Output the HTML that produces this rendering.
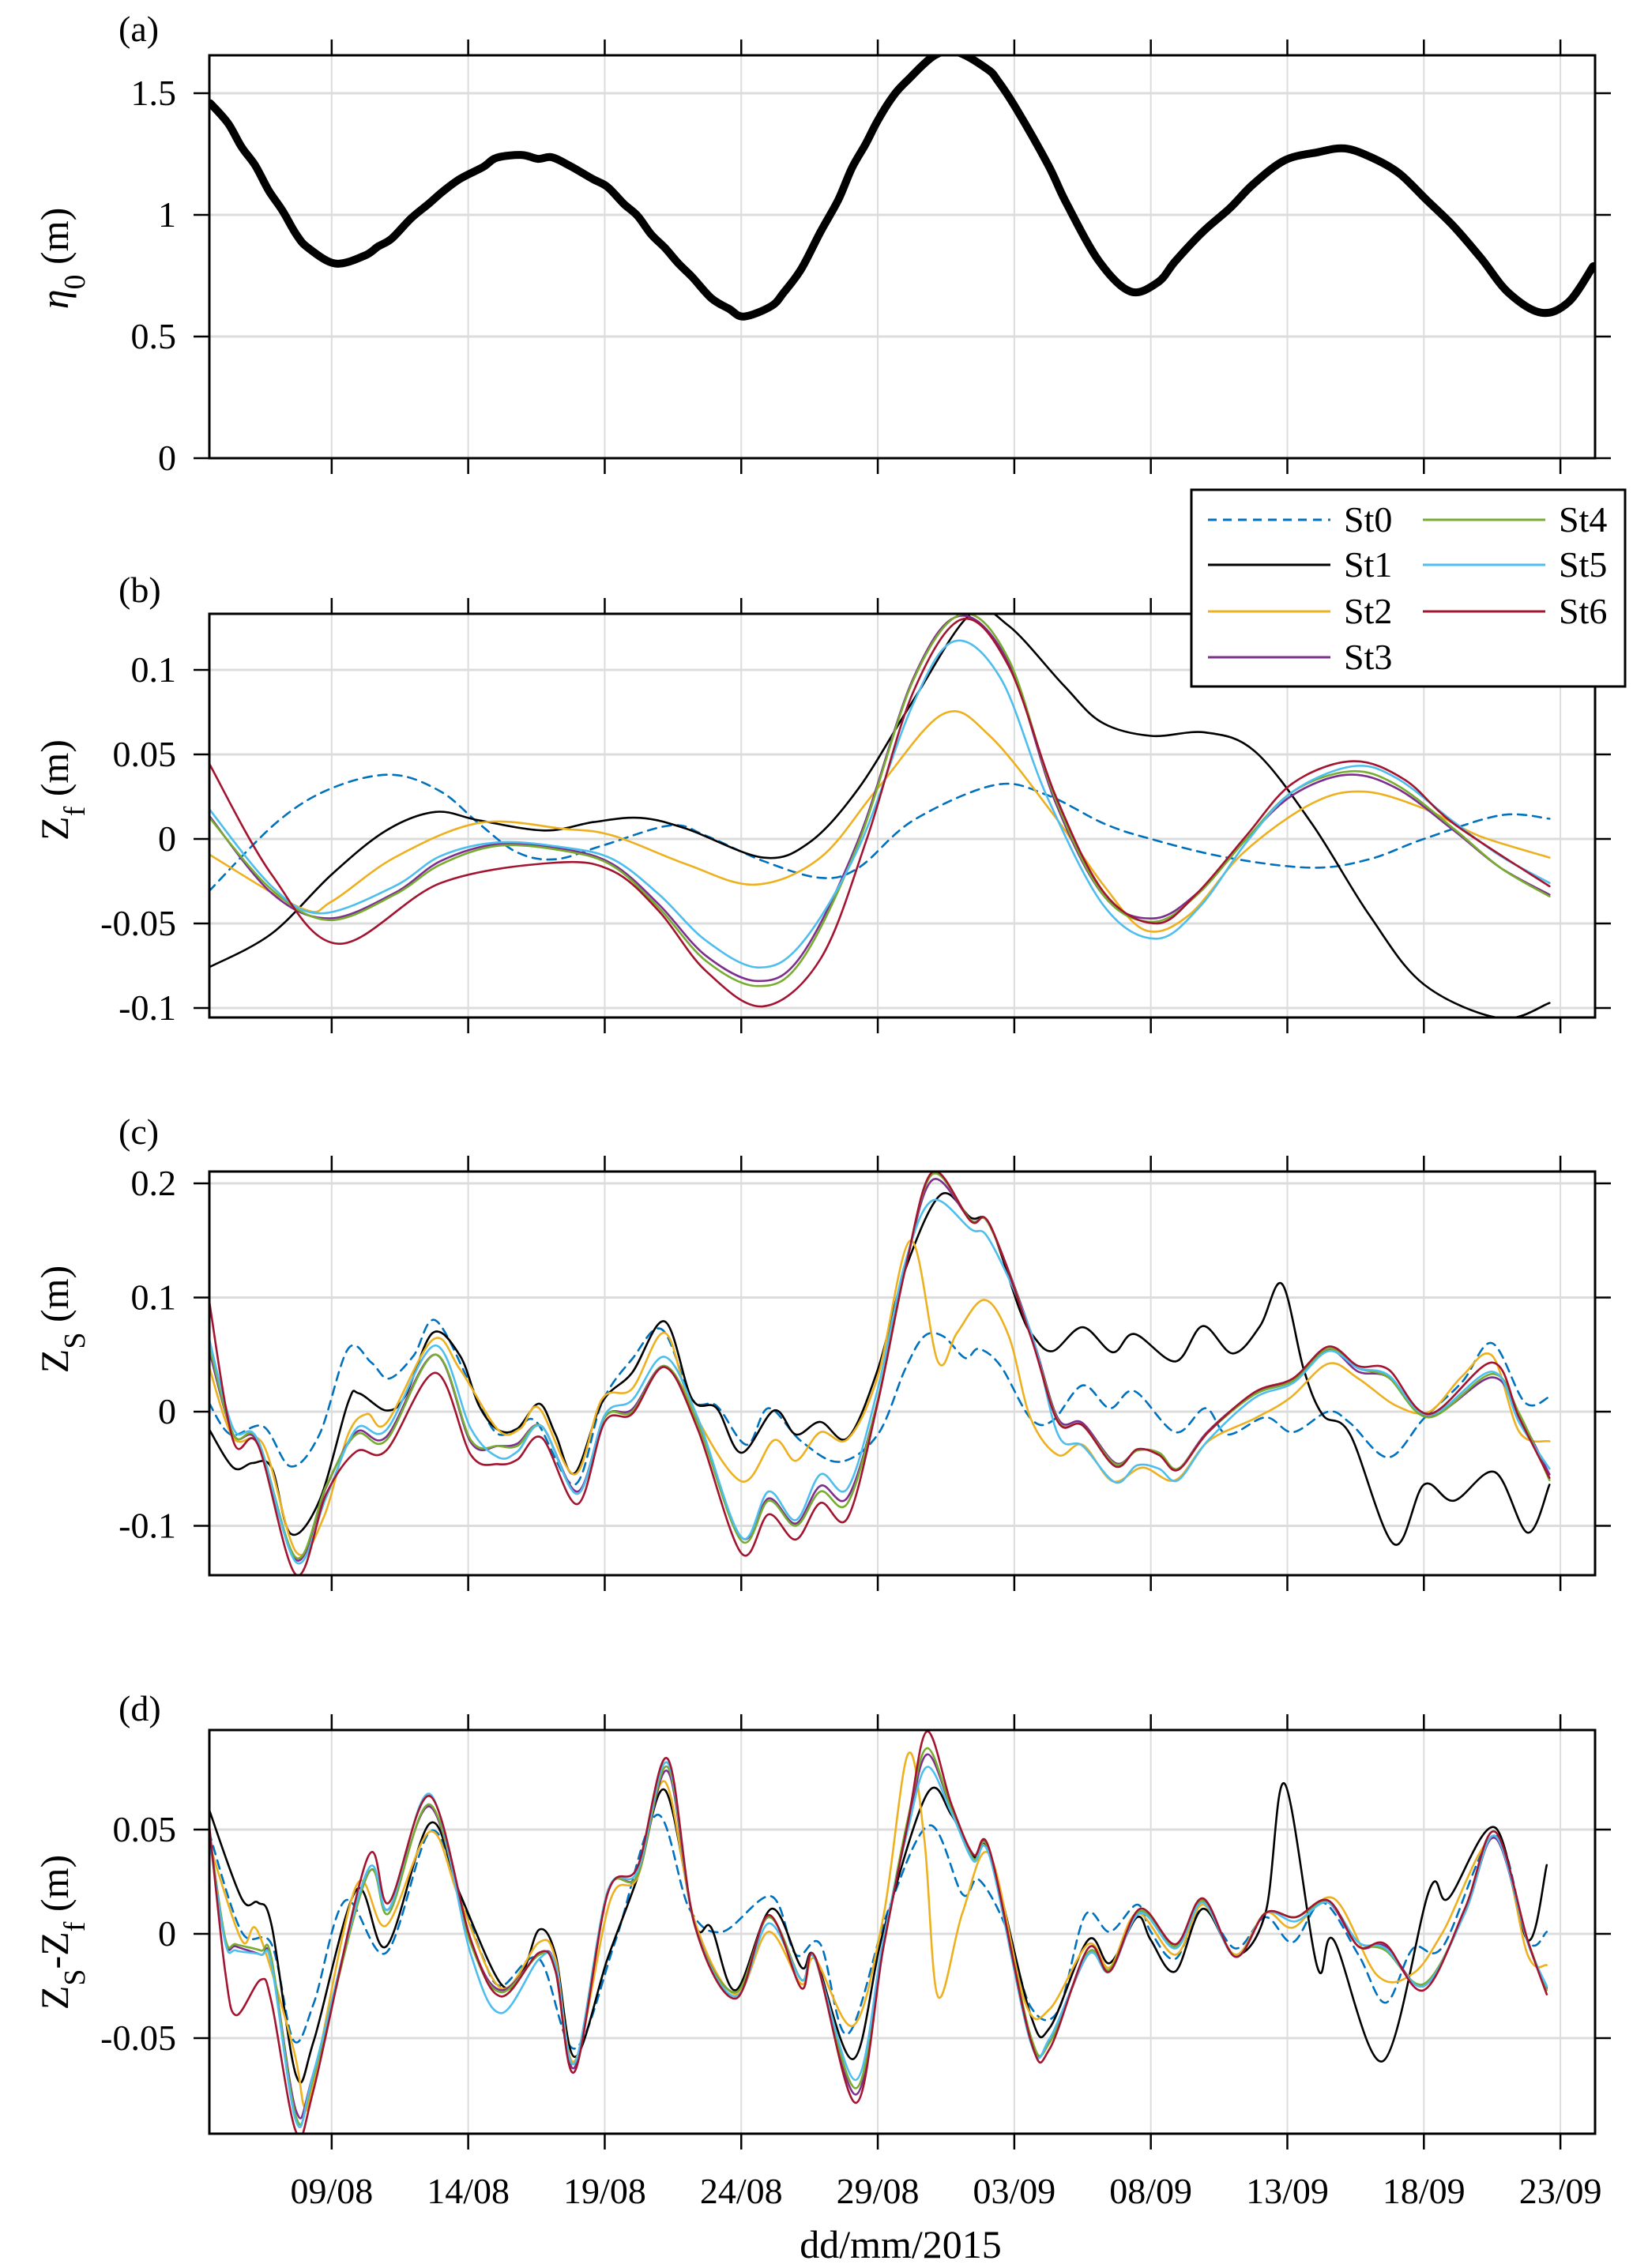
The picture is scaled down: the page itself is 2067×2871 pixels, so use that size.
<!DOCTYPE html>
<html><head><meta charset="utf-8"><style>
html,body{margin:0;padding:0;background:#fff;}
svg{display:block;font-family:"Liberation Serif",serif;}
</style></head><body>
<svg id="fig" width="2067" height="2871" viewBox="0 0 2067 2871" xmlns="http://www.w3.org/2000/svg"></svg>
<script>
// ---------- DATA (time in days since 09/08/2015) ----------
const xTickLabels = ["09/08","14/08","19/08","24/08","29/08","03/09","08/09","13/09","18/09","23/09"];
const xTickDays = [0,5,10,15,20,25,30,35,40,45];

const aT = [-4.45,-3.8,-3.3,-2.8,-2.3,-1.8,-1.3,-0.87,0.13,1.2,1.7,2.2,2.9,3.55,4.05,4.7,5.55,6.05,6.97,7.55,8.05,8.7,9.55,10.1,10.7,11.2,11.7,12.2,12.7,13.2,13.9,14.55,15.1,16.1,16.55,17.2,17.9,18.55,19.05,19.55,20,20.55,21.07,22.08,22.9,24,24.4,25.1,26.25,26.9,28.1,29.25,30.26,30.9,31.9,32.9,33.75,34.9,36.1,37.1,38.1,39.1,40.1,41.1,42.1,43.1,44.3,45.3,46.2];
const aV = [1.459,1.377,1.279,1.203,1.099,1.017,0.92,0.865,0.80,0.832,0.87,0.903,0.985,1.045,1.094,1.148,1.197,1.235,1.246,1.23,1.237,1.203,1.148,1.115,1.045,0.996,0.92,0.865,0.80,0.745,0.658,0.614,0.582,0.625,0.68,0.778,0.93,1.061,1.192,1.29,1.388,1.486,1.551,1.655,1.669,1.6,1.551,1.431,1.203,1.05,0.81,0.685,0.723,0.81,0.93,1.028,1.126,1.224,1.257,1.273,1.235,1.17,1.061,0.952,0.821,0.68,0.598,0.642,0.789];

// Panel b (Zf)
const b0T=[-4.5,-2,0,2.2,4,5.4,6.8,8.2,9.9,12.4,13.7,15.8,17.9,19.3,21.3,24.3,26.2,28.3,30,32.8,35.9,38,40,42.8,44.6];
const b0V=[-0.031,0.01,0.03,0.038,0.028,0.009,-0.008,-0.012,-0.004,0.008,0.002,-0.013,-0.023,-0.017,0.011,0.032,0.026,0.009,0,-0.011,-0.017,-0.012,0,0.014,0.012];
const b1T=[-4.5,-2.2,0,2,3.8,5.4,7.8,9.6,11.3,13,15.8,17.5,19.3,21.3,23.4,24.8,26.8,28.2,30,32,33.8,35.9,38,40,42.8,44.6];
const b1V=[-0.076,-0.056,-0.021,0.005,0.016,0.011,0.005,0.010,0.0125,0.006,-0.011,-0.002,0.030,0.082,0.133,0.126,0.091,0.069,0.061,0.063,0.052,0.009,-0.045,-0.086,-0.106,-0.097];
const b2T=[-4.5,-1.1,0,2.3,5.4,8.5,10.3,13,15.5,17.9,20,22.4,24.1,26.5,28.3,29.8,31.4,33.4,35.9,37.8,40,42,44.6];
const b2V=[-0.009,-0.041,-0.037,-0.011,0.0095,0.006,0.002,-0.015,-0.027,-0.011,0.030,0.074,0.061,0.013,-0.028,-0.054,-0.045,-0.008,0.021,0.028,0.018,0.002,-0.011];
const b3T=[-4.5,-2.2,-0.1,2.3,4,6.1,8.5,10.3,12,13.7,15.6,17.2,19.3,21.3,23,24.8,26.5,28.3,30.1,31.7,33.5,35.2,37.2,39,41.1,42.8,44.6];
const b3V=[0.014,-0.032,-0.047,-0.032,-0.013,-0.003,-0.006,-0.015,-0.039,-0.069,-0.084,-0.069,0,0.095,0.132,0.104,0.022,-0.034,-0.047,-0.032,0,0.026,0.038,0.030,0.005,-0.017,-0.033];
const b4T=[-4.5,-2.2,-0.1,2.3,4,6.1,8.5,10.3,12,13.7,15.6,17.2,19.3,21.3,23.1,24.8,26.5,28.3,30.1,31.7,33.5,35.2,37.3,39,41.1,42.8,44.6];
const b4V=[0.013,-0.030,-0.048,-0.033,-0.015,-0.004,-0.007,-0.016,-0.041,-0.072,-0.087,-0.072,-0.002,0.094,0.133,0.106,0.024,-0.034,-0.049,-0.033,0,0.028,0.040,0.032,0.006,-0.017,-0.034];
const b5T=[-4.5,-2.2,-0.4,2.3,4,6.1,8.5,10.3,12,13.7,15.6,17.2,19.3,21.3,22.8,24.5,26.2,28.3,30.2,31.8,33.5,35.2,37.4,39,41.1,42.8,44.6];
const b5V=[0.018,-0.028,-0.044,-0.028,-0.010,-0.002,-0.005,-0.012,-0.033,-0.060,-0.076,-0.062,-0.005,0.080,0.117,0.095,0.025,-0.040,-0.059,-0.040,-0.002,0.028,0.043,0.036,0.010,-0.010,-0.026];
const b6T=[-4.5,-2.2,0.25,4,8.2,10.3,12,13.7,15.8,17.9,19.6,21.3,23.1,24.8,26.5,28.3,30.2,31.7,33.5,35.2,37.4,39.3,41.1,44.6];
const b6V=[0.045,-0.021,-0.062,-0.026,-0.014,-0.019,-0.043,-0.078,-0.099,-0.071,0,0.087,0.130,0.102,0.026,-0.032,-0.050,-0.032,0.002,0.033,0.046,0.035,0.009,-0.028];

// Panel c (ZS)
const c0T=[-4.5,-3.7,-2.5,-1.5,-0.45,0.6,1.45,2.1,3,3.8,5.1,6,6.8,7.5,8.9,9.9,11,12.1,13.2,14.1,15.2,16,17.2,18.6,20,21,21.7,22.4,23.2,23.7,24.5,25.6,26.4,27.5,28.5,29.4,30.9,32,32.8,34.2,35.2,36.5,37.3,38.7,40,41.4,42.5,43.7,44.6];
const c0V=[0.008,-0.02,-0.013,-0.048,-0.02,0.055,0.043,0.029,0.049,0.08,0.023,-0.018,-0.015,-0.009,-0.064,0.008,0.046,0.072,0.011,0.005,-0.029,0.003,-0.026,-0.044,-0.02,0.037,0.066,0.066,0.047,0.055,0.04,-0.006,-0.008,0.023,0.003,0.018,-0.018,0.003,-0.02,-0.005,-0.018,0,-0.01,-0.04,-0.006,0.026,0.06,0.008,0.013];
const c1T=[-4.5,-3.6,-2.9,-2.2,-1.5,-0.45,0.6,1.0,2,2.7,3.7,4.7,5.4,6.1,6.8,7.6,8.2,8.9,9.9,11,12.2,13.2,14.1,15,16.2,17,17.9,18.9,20,21,22.3,23.4,24.1,25.2,25.7,26.4,27.5,28.6,29.4,30.9,31.9,33,34,34.8,35.6,36.3,37.3,38.9,40,41.1,42.6,43.8,44.6];
const c1V=[-0.015,-0.049,-0.045,-0.049,-0.107,-0.078,0.008,0.016,0.001,0.014,0.069,0.049,0.005,-0.016,-0.015,0.007,-0.02,-0.054,0.008,0.034,0.079,0.011,0.003,-0.036,0.001,-0.02,-0.009,-0.023,0.037,0.124,0.19,0.17,0.164,0.089,0.066,0.053,0.074,0.052,0.068,0.044,0.075,0.051,0.075,0.112,0.037,-0.003,-0.02,-0.116,-0.064,-0.078,-0.053,-0.106,-0.064];
const c2T=[-4.5,-3.6,-2.5,-1.3,-0.3,0.6,1.3,2,3.7,4.7,6.1,6.9,7.6,8.9,9.9,11,12.2,13.2,15,16.2,17,17.9,18.9,20,21.2,22.2,22.9,23.9,24.8,25.6,26.6,27.5,28.6,29.7,30.9,32.1,33.8,35.1,36.5,37.6,39,40.2,41.4,42.5,43.5,44.6];
const c2V=[0.04,-0.023,-0.029,-0.123,-0.093,-0.02,-0.002,-0.01,0.063,0.037,-0.016,-0.015,0.003,-0.055,0.011,0.02,0.069,0.003,-0.061,-0.025,-0.043,-0.018,-0.024,0.031,0.15,0.044,0.069,0.098,0.066,-0.006,-0.038,-0.029,-0.061,-0.049,-0.06,-0.026,-0.006,0.012,0.042,0.029,0.005,0,0.031,0.049,-0.018,-0.026];
const cT=[-4.5,-3.6,-2.7,-1.3,-0.2,0.9,2,3.8,5.1,6.1,6.8,7.7,9,10,11,12.2,13.4,15,16,17,17.9,18.9,20,21,22,23.4,24.1,25.6,26.6,27.5,28.7,29.5,30.3,31,32.1,33.8,35.2,36.5,37.6,38.7,40.2,42.5,43.5,44.6];
const c3V=[0.055,-0.02,-0.027,-0.13,-0.066,-0.018,-0.022,0.05,-0.027,-0.03,-0.028,-0.013,-0.07,-0.005,0.002,0.04,-0.01,-0.11,-0.076,-0.098,-0.065,-0.075,0.01,0.125,0.203,0.168,0.163,0.07,-0.006,-0.01,-0.045,-0.034,-0.036,-0.05,-0.017,0.016,0.027,0.054,0.035,0.03,-0.004,0.03,-0.004,-0.055];
const c4V=[0.06,-0.02,-0.025,-0.128,-0.065,-0.02,-0.025,0.05,-0.025,-0.03,-0.03,-0.013,-0.072,-0.005,0.0,0.04,-0.01,-0.113,-0.078,-0.1,-0.07,-0.08,0.01,0.125,0.208,0.168,0.163,0.068,-0.008,-0.012,-0.046,-0.034,-0.036,-0.05,-0.018,0.015,0.027,0.055,0.038,0.03,-0.005,0.033,-0.002,-0.06];
const c5V=[0.065,-0.015,-0.025,-0.132,-0.075,-0.015,-0.016,0.058,-0.015,-0.04,-0.035,-0.013,-0.072,-0.003,0.01,0.048,-0.005,-0.11,-0.07,-0.095,-0.055,-0.067,0.02,0.13,0.185,0.16,0.15,0.07,-0.02,-0.03,-0.062,-0.047,-0.05,-0.06,-0.025,0.012,0.025,0.053,0.038,0.032,-0.003,0.035,-0.01,-0.05];
const c6V=[0.099,-0.026,-0.029,-0.143,-0.072,-0.035,-0.034,0.034,-0.038,-0.046,-0.042,-0.023,-0.081,-0.009,-0.002,0.039,-0.015,-0.124,-0.09,-0.112,-0.08,-0.093,0.008,0.124,0.21,0.167,0.164,0.066,-0.009,-0.012,-0.048,-0.033,-0.038,-0.051,-0.018,0.017,0.029,0.057,0.04,0.037,-0.002,0.043,-0.006,-0.058];

// Panel d (ZS - Zf)
const d0T=[-4.5,-3.3,-2.2,-1.4,-0.65,0.5,2,3.6,4.7,5.5,6.2,7.6,8.9,10.4,11.9,13.1,14.3,16.1,17,17.9,18.9,20.4,21.9,23.1,23.7,24.7,25.6,26.6,27.6,28.5,29.5,30,30.9,31.9,33.1,34.2,35.2,36.3,37.6,38.6,39.6,40.7,42.6,43.8,44.5];
const d0V=[0.049,0.001,-0.005,-0.051,-0.033,0.016,-0.009,0.049,0.019,-0.010,-0.025,-0.012,-0.055,-0.003,0.057,0.012,0.001,0.018,-0.01,-0.005,-0.048,0.012,0.052,0.019,0.026,0.003,-0.035,-0.037,0.009,0.001,0.014,0.001,-0.012,0.012,-0.007,0.008,-0.004,0.015,-0.010,-0.033,-0.007,-0.006,0.047,-0.003,0.001];
const d1T=[-4.5,-3.3,-2.7,-2.2,-1.3,-0.65,0.9,2,3.6,4.7,6.2,7,7.6,8.2,8.9,10.1,11.2,12.2,13.3,13.9,14.8,16.1,17.2,17.7,19.1,20.2,21.8,22.7,23.5,24.1,25.6,26.3,27.7,28.5,29.5,30,30.9,31.9,33.1,34.2,34.9,36.1,36.7,38.5,40.2,40.9,42.6,43.8,44.5];
const d1V=[0.060,0.017,0.015,0.004,-0.068,-0.051,0.021,-0.006,0.053,0.019,-0.024,-0.018,0.002,-0.010,-0.059,-0.012,0.027,0.069,0.005,0.003,-0.027,0.012,-0.016,-0.011,-0.060,0.001,0.067,0.057,0.037,0.039,-0.039,-0.045,-0.003,-0.014,0.008,-0.003,-0.018,0.012,-0.010,0.010,0.072,-0.016,-0.003,-0.061,0.021,0.017,0.051,-0.003,0.033];
const d2T=[-4.5,-3.3,-2.7,-1.4,-1.0,-0.65,0.9,2,3.6,4.7,6.2,7.6,8.2,8.9,10.2,11.2,12.2,13.3,14.8,16,17.2,17.7,19.1,20.2,21.1,21.7,22.2,23.1,24.1,25.4,26.3,27.7,28.5,29.5,30.9,31.9,33.1,34.2,35.2,36.7,38.3,39.6,40.7,42.6,43.8,44.5];
const d2V=[0.044,-0.003,0.001,-0.055,-0.083,-0.07,0.023,0.004,0.049,0.016,-0.026,-0.004,-0.012,-0.061,0.016,0.027,0.073,0.006,-0.029,0.001,-0.024,-0.012,-0.044,0.008,0.086,0.046,-0.03,0.01,0.038,-0.033,-0.036,-0.005,-0.016,0.010,-0.010,0.014,-0.01,0.010,0.003,0.017,-0.020,-0.019,0.001,0.046,-0.010,-0.015];
const dT=[-4.5,-3.9,-3.5,-2.6,-2.2,-1.3,-0.65,1.3,2.1,3.6,5.1,6.2,7.6,8.2,8.9,10.1,11.2,12.3,13.3,14.8,16,17.2,17.7,19.2,20.2,21.1,21.8,22.7,23.5,24.1,25.6,26.3,27.7,28.5,29.6,30.9,31.9,33.1,34.2,35.3,36.5,37.6,38.6,40,41.5,42.6,43.8,44.5];
const d3V=[0.05,-0.003,-0.006,-0.01,-0.013,-0.085,-0.066,0.028,0.012,0.061,-0.004,-0.027,-0.01,-0.015,-0.064,0.02,0.028,0.078,0.004,-0.028,0.008,-0.022,-0.012,-0.077,-0.006,0.052,0.086,0.06,0.038,0.039,-0.05,-0.051,-0.01,-0.018,0.01,-0.006,0.017,-0.011,0.01,0.008,0.015,-0.006,-0.006,-0.025,0.01,0.046,-0.004,-0.026];
const d4V=[0.05,-0.002,-0.005,-0.008,-0.012,-0.088,-0.068,0.028,0.01,0.062,-0.005,-0.028,-0.01,-0.016,-0.062,0.02,0.028,0.08,0.004,-0.028,0.008,-0.022,-0.012,-0.074,-0.005,0.055,0.089,0.06,0.036,0.039,-0.049,-0.052,-0.009,-0.017,0.011,-0.006,0.016,-0.011,0.01,0.008,0.015,-0.004,-0.008,-0.024,0.01,0.047,-0.003,-0.027];
const d5V=[0.048,-0.004,-0.008,-0.01,-0.015,-0.09,-0.066,0.03,0.012,0.067,-0.01,-0.038,-0.012,-0.015,-0.062,0.02,0.03,0.082,0.004,-0.03,0.005,-0.022,-0.012,-0.07,-0.003,0.05,0.08,0.058,0.035,0.037,-0.052,-0.05,-0.01,-0.018,0.01,-0.007,0.015,-0.011,0.01,0.006,0.015,-0.004,-0.007,-0.025,0.01,0.047,-0.004,-0.025];
const d6V=[0.054,-0.018,-0.039,-0.022,-0.033,-0.095,-0.074,0.036,0.015,0.066,-0.003,-0.030,-0.009,-0.018,-0.066,0.019,0.032,0.084,0.004,-0.031,0.009,-0.026,-0.011,-0.081,-0.007,0.053,0.097,0.062,0.038,0.040,-0.051,-0.055,-0.007,-0.018,0.012,-0.005,0.017,-0.011,0.010,0.008,0.016,-0.006,-0.005,-0.027,0.012,0.049,-0.003,-0.029];

const stationNames=["St0","St1","St2","St3","St4","St5","St6"];
const yTicksA=[0,0.5,1,1.5];
const yTicksB=[-0.1,-0.05,0,0.05,0.1];
const yTicksC=[-0.1,0,0.1,0.2];
const yTicksD=[-0.05,0,0.05];

// ---------- RENDER ----------
const NS="http://www.w3.org/2000/svg";
const svg=document.getElementById('fig');
const colors=["#0072BD","#000000","#EDB120","#7E2F8E","#77AC30","#4DBEEE","#A2142F"];
const X0=265,X1=2019,TMIN=-4.48,TMAX=46.27;
function xs(t){return X0+(t-TMIN)/(TMAX-TMIN)*(X1-X0);}
function mk(tag,attrs,parent){const e=document.createElementNS(NS,tag);for(const k in attrs)e.setAttribute(k,attrs[k]);(parent||svg).appendChild(e);return e;}
function smooth(pts){
  let d="M"+pts[0][0].toFixed(1)+","+pts[0][1].toFixed(1);
  for(let i=0;i<pts.length-1;i++){
    const p0=pts[i-1]||pts[i],p1=pts[i],p2=pts[i+1],p3=pts[i+2]||p2;
    const c1x=p1[0]+(p2[0]-p0[0])/6,c1y=p1[1]+(p2[1]-p0[1])/6;
    const c2x=p2[0]-(p3[0]-p1[0])/6,c2y=p2[1]-(p3[1]-p1[1])/6;
    d+=" C"+c1x.toFixed(1)+","+c1y.toFixed(1)+" "+c2x.toFixed(1)+","+c2y.toFixed(1)+" "+p2[0].toFixed(1)+","+p2[1].toFixed(1);
  }
  return d;
}
const defs=mk('defs',{});
function panel(id,top,bot,ymin,ymax,yticks,tickFmt,series,label,labelY,ylabelY,ylabelParts,showX){
  const g=mk('g',{});
  
  
  const ys=v=>bot-(v-ymin)/(ymax-ymin)*(bot-top);
  const cp=mk('clipPath',{id:'clip'+id},defs);
  mk('rect',{x:X0,y:top,width:X1-X0,height:bot-top},cp);
  xTickDays.forEach(t=>{const l=mk('line',{x1:xs(t),x2:xs(t),y1:top,y2:bot,stroke:'#dcdcdc','stroke-width':2},g);
    });
  yticks.forEach(v=>{const l=mk('line',{x1:X0,x2:X1,y1:ys(v),y2:ys(v),stroke:'#dcdcdc','stroke-width':3},g);
    });
  const sg=mk('g',{'clip-path':'url(#clip'+id+')'},g);
  series.forEach(s=>{
    const pts=s.t.map((t,i)=>[xs(t),ys(s.v[i])]);
    const p=mk('path',{d:smooth(pts),fill:'none',stroke:s.color,'stroke-width':s.w||2.6,'stroke-linejoin':'round','stroke-linecap':'round'},sg);
    if(s.dash)p.setAttribute('stroke-dasharray',s.dash);
    
    
  });
  const bx=mk('rect',{x:X0,y:top,width:X1-X0,height:bot-top,fill:'none',stroke:'#000','stroke-width':3},g);
  
  xTickDays.forEach(t=>{
    mk('line',{x1:xs(t),x2:xs(t),y1:top-20,y2:top,stroke:'#000','stroke-width':2.5},g);
    mk('line',{x1:xs(t),x2:xs(t),y1:bot,y2:bot+20,stroke:'#000','stroke-width':2.5},g);
  });
  yticks.forEach((v,i)=>{
    mk('line',{x1:X0-20,x2:X0,y1:ys(v),y2:ys(v),stroke:'#000','stroke-width':2.5},g);
    mk('line',{x1:X1,x2:X1+20,y1:ys(v),y2:ys(v),stroke:'#000','stroke-width':2.5},g);
    const tx=mk('text',{x:X0-42,y:ys(v)+15,'text-anchor':'end','font-size':46},g);
    tx.textContent=tickFmt[i];
    
  });
  if(showX){
    xTickLabels.forEach((s,i)=>{const tx=mk('text',{x:xs(xTickDays[i]),y:2789,'text-anchor':'middle','font-size':46},g);
      tx.textContent=s;});
  }
  const pl=mk('text',{x:150,y:labelY,'font-size':46},g);pl.textContent=label;
  
  const yl=mk('text',{x:0,y:0,'text-anchor':'middle','font-size':50,transform:'translate(86,'+ylabelY+') rotate(-90)'},g);
  
  ylabelParts.forEach(p=>{const ts=mk('tspan',{},yl);ts.textContent=p.s;
    if(p.sub){ts.setAttribute('baseline-shift','sub');ts.setAttribute('font-size','38');}
    if(p.it){ts.setAttribute('font-style','italic');}});
}
function mkSeries(ts,vs){return vs.map((v,i)=>({name:stationNames[i],t:ts[i],v:v,color:colors[i],dash:i===0?'11,8':null}));}

panel('a',70,580,0,1.6558,yTicksA,["0","0.5","1","1.5"],
  [{name:'eta0',t:aT,v:aV,color:'#000',w:10}],'(a)',52,327,
  [{s:'η',it:true},{s:'0',sub:true},{s:' (m)'}],false);
panel('b',777,1288,-0.1056,0.1332,yTicksB,["-0.1","-0.05","0","0.05","0.1"],
  mkSeries([b0T,b1T,b2T,b3T,b4T,b5T,b6T],[b0V,b1V,b2V,b3V,b4V,b5V,b6V]),'(b)',762,1000,
  [{s:'Z'},{s:'f',sub:true},{s:' (m)'}],false);
panel('c',1483,1994,-0.1433,0.2104,yTicksC,["-0.1","0","0.1","0.2"],
  mkSeries([c0T,c1T,c2T,cT,cT,cT,cT],[c0V,c1V,c2V,c3V,c4V,c5V,c6V]),'(c)',1448,1670,
  [{s:'Z'},{s:'S',sub:true},{s:' (m)'}],false);
panel('d',2190,2701,-0.0958,0.0977,yTicksD,["-0.05","0","0.05"],
  mkSeries([d0T,d1T,d2T,dT,dT,dT,dT],[d0V,d1V,d2V,d3V,d4V,d5V,d6V]),'(d)',2178,2446,
  [{s:'Z'},{s:'S',sub:true},{s:'-Z'},{s:'f',sub:true},{s:' (m)'}],true);

const xl=mk('text',{x:1140,y:2858,'text-anchor':'middle','font-size':50});
xl.textContent='dd/mm/2015';



const lg=mk('g',{});


mk('rect',{x:1508,y:620,width:549,height:249,fill:'#fff',stroke:'#000','stroke-width':3},lg);
const legendPos=[[0,0],[0,1],[0,2],[0,3],[1,0],[1,1],[1,2]];
const rowY=[658,715,774,832];
stationNames.forEach((n,i)=>{
  const c=legendPos[i][0],r=legendPos[i][1];
  const lx=c===0?1529:1801, ly=rowY[r];
  const e=mk('g',{},lg);
  
  
  const ln=mk('line',{x1:lx,x2:lx+155,y1:ly,y2:ly,stroke:colors[i],'stroke-width':3},e);
  if(i===0)ln.setAttribute('stroke-dasharray','11,8');
  const tx=mk('text',{x:lx+172,y:ly+15,'font-size':46},e);tx.textContent=n;
});
</script>
</body></html>
